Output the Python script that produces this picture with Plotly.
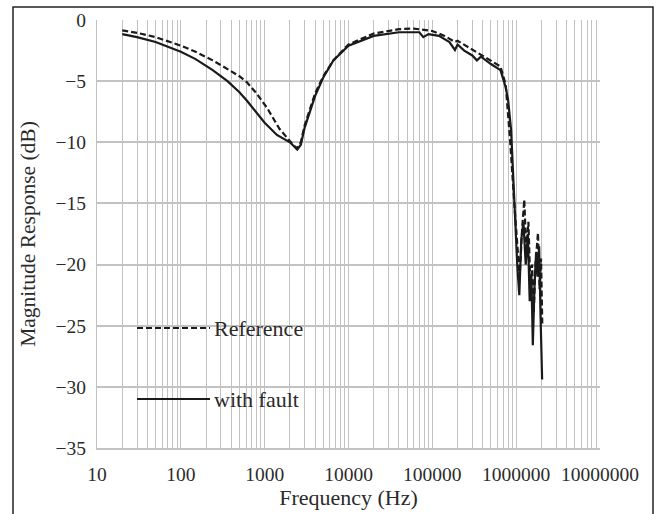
import plotly.graph_objects as go

# Reference (dashed)
ref_freq = [20, 30, 50, 100, 150, 240, 400, 500, 615, 800, 1070, 1500, 2000, 2400, 2700, 3000, 4000,
            5000, 6600, 10000, 20000, 40000, 60000, 78000, 100000, 140000, 186000, 200000,
            250000, 340000, 500000, 650000, 750000, 850000, 950000, 1050000, 1100000, 1180000,
            1250000, 1320000, 1400000, 1480000, 1550000, 1620000, 1700000, 1820000, 1900000,
            1980000, 2050000]
ref_db = [-0.85, -1.05, -1.4, -2.1, -2.6, -3.3, -4.2, -4.6, -5.1, -6.0, -7.2, -8.9, -9.9, -10.5, -10.0, -8.6, -6.0,
          -4.6, -3.3, -2.0, -1.1, -0.75, -0.7, -0.8, -0.9, -1.3, -1.8, -1.7,
          -2.1, -2.6, -3.3, -3.8, -5.3, -10.0, -15.0, -19.5, -21.0, -17.0,
          -14.7, -19.0, -16.5, -22.0, -20.0, -24.0, -20.0, -17.4, -22.0,
          -19.5, -25.0]

# With fault (solid)
flt_freq = [20, 30, 50, 100, 150, 240, 360, 500, 615, 800, 1000, 1400, 2000, 2450, 2700, 3000, 4000,
            5000, 6600, 10000, 20000, 40000, 70000, 78000, 90000, 120000, 160000, 186000,
            200000, 240000, 300000, 340000, 380000, 500000, 650000, 750000, 800000, 870000,
            950000, 1030000, 1090000, 1150000, 1220000, 1300000, 1380000, 1450000, 1520000,
            1580000, 1650000, 1730000, 1800000, 1880000, 1950000, 2040000]
flt_db = [-1.15, -1.4, -1.8, -2.6, -3.2, -4.1, -5.0, -5.9, -6.6, -7.6, -8.4, -9.4, -10.0, -10.6, -10.2, -8.8, -6.2,
          -4.7, -3.3, -2.1, -1.3, -1.0, -1.0, -1.4, -1.15, -1.3, -1.8, -2.45,
          -2.0, -2.5, -2.9, -3.3, -3.0, -3.6, -4.1, -5.5, -6.5, -9.0,
          -15.0, -20.0, -22.5, -18.0, -16.5, -20.0, -17.5, -23.0, -21.0,
          -26.6, -22.0, -19.0, -21.0, -18.5, -24.0, -29.4]

series_names = ["Reference", "with fault"]
x_tickvals = [10, 100, 1000, 10000, 100000, 1000000, 10000000]
x_ticktext = ["10", "100", "1000", "10000", "100000", "1000000", "10000000"]
y_tickvals = [0, -5, -10, -15, -20, -25, -30, -35]
minor_vals = [m * 10 ** d for d in range(1, 7) for m in range(2, 10)]

FONT = "Liberation Serif"
TXT = "#2a2a2a"
GRID = "#c2c2c2"
LINE = "#1a1a1a"
DASH = "6px,3px"

# plot area in pixels (for converting the legend/frame positions to paper units)
L, R, T, B = 97, 600, 20, 448
W, H = 656, 514
PW, PH = R - L, B - T


def px(xp):
    return (xp - L) / PW


def py(yp):
    return (B - yp) / PH


fig = go.Figure()
fig.add_trace(go.Scatter(x=ref_freq, y=ref_db, mode="lines", name=series_names[0],
                         showlegend=False,
                         line=dict(color=LINE, width=2.2, dash=DASH)))
fig.add_trace(go.Scatter(x=flt_freq, y=flt_db, mode="lines", name=series_names[1],
                         showlegend=False,
                         line=dict(color=LINE, width=2.2)))

fig.update_layout(
    width=W, height=H,
    margin=dict(l=L, r=W - R, t=T, b=H - B, autoexpand=False),
    paper_bgcolor="white", plot_bgcolor="white",
    font=dict(family=FONT, color=TXT, size=19),
    showlegend=False,
    xaxis=dict(type="log", range=[1, 7], tickvals=x_tickvals, ticktext=x_ticktext,
               automargin=False,
               showgrid=True, gridcolor=GRID, gridwidth=1,
               minor=dict(tickvals=minor_vals, showgrid=True, gridcolor=GRID, gridwidth=1, ticks=""),
               showline=True, linecolor=GRID, linewidth=1.5, mirror=False,
               ticks="outside", ticklen=8, tickcolor="rgba(0,0,0,0)", zeroline=False,
               title=dict(text="Frequency (Hz)", font=dict(family=FONT, size=22, color=TXT), standoff=2),
               tickfont=dict(family=FONT, size=19.5, color=TXT)),
    yaxis=dict(range=[-35, 0], tickvals=y_tickvals,
               automargin=False,
               showgrid=True, gridcolor=GRID, gridwidth=1.5,
               showline=True, linecolor=GRID, linewidth=1,
               ticks="outside", ticklen=6, tickcolor="rgba(0,0,0,0)", zeroline=False,
               title=dict(text="Magnitude Response (dB)", font=dict(family=FONT, size=21.5, color=TXT), standoff=14),
               tickfont=dict(family=FONT, size=19.5, color=TXT)),
)

# legend drawn inside the plot, as in the original (long line samples)
legend_rows = [(328, DASH), (399, "solid")]
for (yrow, dash), name in zip(legend_rows, series_names):
    fig.add_shape(type="line", xref="paper", yref="paper",
                  x0=px(137), x1=px(210), y0=py(yrow), y1=py(yrow),
                  line=dict(color=LINE, width=2.2, dash=dash))
    fig.add_annotation(xref="paper", yref="paper", x=px(212), y=py(yrow),
                       xanchor="left", yanchor="middle", text=name, showarrow=False,
                       font=dict(family=FONT, size=22, color=TXT))

# outer frame around the chart
fig.add_shape(type="rect", xref="paper", yref="paper",
              x0=px(13), x1=px(653), y0=py(H + 10), y1=py(7),
              line=dict(color="#222222", width=1.5), fillcolor="rgba(0,0,0,0)", layer="below")

fig.write_html("out.html")
